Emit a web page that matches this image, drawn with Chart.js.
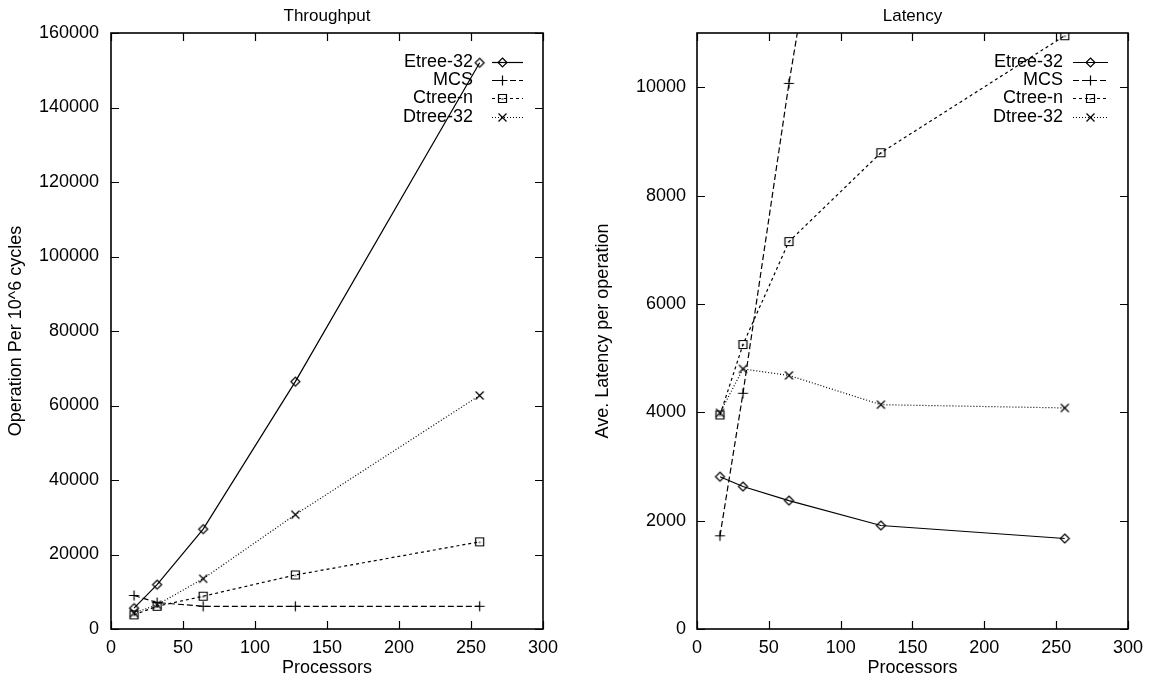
<!DOCTYPE html>
<html>
<head>
<meta charset="utf-8">
<title>Throughput and Latency</title>
<script src="https://cdn.jsdelivr.net/npm/chart.js@4.4.1/dist/chart.umd.min.js"></script>
<style>
  html, body { margin: 0; padding: 0; background: #fff; }
  #wrap { position: relative; width: 1151px; height: 682px; overflow: hidden; background: #fff; }
  canvas { position: absolute; top: 0; }
  #throughput { left: 0; }
  #latency { left: 575px; }
</style>
</head>
<body>
<div id="wrap">
  <canvas id="throughput" width="575" height="682"></canvas>
  <canvas id="latency" width="576" height="682"></canvas>
</div>
<script>
// Processor counts measured
const processors = [16, 32, 64, 128, 256];
const seriesNames = ['Etree-32', 'MCS', 'Ctree-n', 'Dtree-32'];

// Operations per 10^6 cycles
const etreeThroughput = [5600, 11900, 26800, 66400, 152000];
const mcsThroughput   = [9000, 7100, 6100, 6100, 6100];
const ctreeThroughput = [3800, 6100, 8800, 14500, 23400];
const dtreeThroughput = [4300, 6500, 13500, 30700, 62700];

// Average latency per operation (cycles)
const etreeLatency = [2810, 2630, 2370, 1910, 1670];
const mcsLatency   = [1720, 4350, 10070, 20300, 40600];
const ctreeLatency = [3950, 5250, 7150, 8790, 10950];
const dtreeLatency = [3990, 4800, 4680, 4140, 4080];

// Axis ticks
const processorTicks  = [0, 50, 100, 150, 200, 250, 300];
const throughputTicks = [0, 20000, 40000, 60000, 80000, 100000, 120000, 140000, 160000];
const latencyTicks    = [0, 2000, 4000, 6000, 8000, 10000];

const FONT = "'Liberation Sans', Arial, Helvetica, sans-serif";
Chart.defaults.font.family = FONT;
Chart.defaults.font.size = 18;
Chart.defaults.color = '#000';

// Hollow point markers in the classic plotting style
function makeMarker(kind) {
  const c = document.createElement('canvas');
  c.width = 13; c.height = 13;
  const g = c.getContext('2d');
  g.strokeStyle = '#000';
  g.lineWidth = 1.2;
  const m = 6.5;
  g.beginPath();
  if (kind === 'diamond') {
    g.moveTo(m, m - 4.5); g.lineTo(m + 4.5, m); g.lineTo(m, m + 4.5); g.lineTo(m - 4.5, m); g.closePath();
  } else if (kind === 'plus') {
    g.moveTo(m - 5, m); g.lineTo(m + 5, m);
    g.moveTo(m, m - 5); g.lineTo(m, m + 5);
  } else if (kind === 'square') {
    g.rect(m - 4, m - 4, 8, 8);
    g.moveTo(m - 1, m + 0.5); g.lineTo(m + 1, m + 0.5);
  } else {
    g.moveTo(m - 4, m - 4); g.lineTo(m + 4, m + 4);
    g.moveTo(m + 4, m - 4); g.lineTo(m - 4, m + 4);
  }
  g.stroke();
  return c;
}
const markers = [makeMarker('diamond'), makeMarker('plus'), makeMarker('square'), makeMarker('cross')];
const dashes = [[], [6, 3], [3, 3], [1, 2]];

function buildDatasets(seriesValues) {
  return seriesValues.map((vals, i) => ({
    label: seriesNames[i],
    data: processors.map((p, j) => ({ x: p, y: vals[j] })),
    borderColor: '#000',
    backgroundColor: 'transparent',
    borderWidth: 1.2,
    borderDash: dashes[i],
    pointStyle: markers[i],
    pointRadius: 4,
    tension: 0,
    fill: false
  }));
}

// Boxed frame with inward ticks on all four sides, title and an inset key
const framePlugin = {
  id: 'frame',
  afterDraw(chart, args, opts) {
    const { ctx, chartArea: a, scales } = chart;
    const xs = scales.x, ys = scales.y;
    const T = 8;
    ctx.save();
    ctx.strokeStyle = '#000';
    ctx.lineWidth = 1.2;
    ctx.setLineDash([]);
    ctx.beginPath();
    xs.ticks.forEach(t => {
      const px = Math.round(xs.getPixelForValue(t.value)) + 0.5;
      ctx.moveTo(px, a.bottom); ctx.lineTo(px, a.bottom - T);
      ctx.moveTo(px, a.top); ctx.lineTo(px, a.top + T);
    });
    ys.ticks.forEach(t => {
      const py = Math.round(ys.getPixelForValue(t.value)) + 0.5;
      ctx.moveTo(a.left, py); ctx.lineTo(a.left + T, py);
      ctx.moveTo(a.right, py); ctx.lineTo(a.right - T, py);
    });
    ctx.stroke();
    ctx.lineWidth = 1.6;
    ctx.strokeRect(a.left, a.top, a.right - a.left, a.bottom - a.top);

    // Title
    ctx.fillStyle = '#000';
    ctx.font = '17px ' + FONT;
    ctx.textAlign = 'center';
    ctx.textBaseline = 'alphabetic';
    ctx.fillText(opts.title, (a.left + a.right) / 2, 21);

    // Key
    ctx.font = '18px ' + FONT;
    ctx.textAlign = 'right';
    ctx.textBaseline = 'middle';
    chart.data.datasets.forEach((ds, i) => {
      const y = a.top + 28.7 + i * 18.3;
      ctx.fillText(ds.label, a.right - opts.textOff, y);
      ctx.lineWidth = 1.2;
      ctx.setLineDash(ds.borderDash);
      ctx.beginPath();
      ctx.moveTo(a.right - opts.lineFrom, Math.round(y) + 0.5);
      ctx.lineTo(a.right - opts.lineTo, Math.round(y) + 0.5);
      ctx.stroke();
      ctx.setLineDash([]);
      const mk = ds.pointStyle;
      ctx.drawImage(mk, Math.round(a.right - opts.markAt) - 6, Math.round(y) - 6);
    });
    ctx.restore();
  }
};

function makeChart(id, datasets, yTicks, yMax, yTitle, cfg) {
  return new Chart(document.getElementById(id), {
    type: 'line',
    data: { datasets },
    plugins: [framePlugin],
    options: {
      responsive: false,
      animation: false,
      events: [],
      layout: { padding: { top: 33, right: cfg.rightPad, left: 0, bottom: 0 } },
      plugins: {
        legend: { display: false },
        tooltip: { enabled: false },
        title: { display: false },
        frame: cfg.frame
      },
      scales: {
        x: {
          type: 'linear',
          min: 0, max: 300,
          afterBuildTicks: s => { s.ticks = processorTicks.map(v => ({ value: v })); },
          afterFit: s => { s.height = 53; },
          grid: { display: false, drawTicks: false },
          border: { display: false },
          ticks: { padding: 8, maxRotation: 0, autoSkip: false, color: '#000', font: { size: 18 },
                   callback: v => String(v) },
          title: { display: true, text: 'Processors', color: '#000', font: { size: 18 }, padding: { top: 0, bottom: 3 } }
        },
        y: {
          type: 'linear',
          min: 0, max: yMax,
          afterBuildTicks: s => { s.ticks = yTicks.map(v => ({ value: v })); },
          afterFit: s => { s.width = cfg.yWidth; },
          grid: { display: false, drawTicks: false },
          border: { display: false },
          ticks: { padding: cfg.yPad, color: '#000', font: { size: 18 }, autoSkip: false,
                   callback: v => String(v) },
          title: { display: true, text: yTitle, color: '#000', font: { size: 18 }, padding: { top: cfg.titlePad, bottom: 0 } }
        }
      }
    }
  });
}

makeChart('throughput',
  buildDatasets([etreeThroughput, mcsThroughput, ctreeThroughput, dtreeThroughput]),
  throughputTicks, 160000, 'Operation Per 10^6 cycles',
  { rightPad: 32, yWidth: 111, yPad: 12, titlePad: 5,
    frame: { title: 'Throughput', textOff: 70, lineFrom: 51, lineTo: 20, markAt: 41 } });

makeChart('latency',
  buildDatasets([etreeLatency, mcsLatency, ctreeLatency, dtreeLatency]),
  latencyTicks, 11000, 'Ave. Latency per operation',
  { rightPad: 21, yWidth: 122, yPad: 11, titlePad: 17.5,
    frame: { title: 'Latency', textOff: 65, lineFrom: 55, lineTo: 20, markAt: 38 } });
</script>
</body>
</html>
